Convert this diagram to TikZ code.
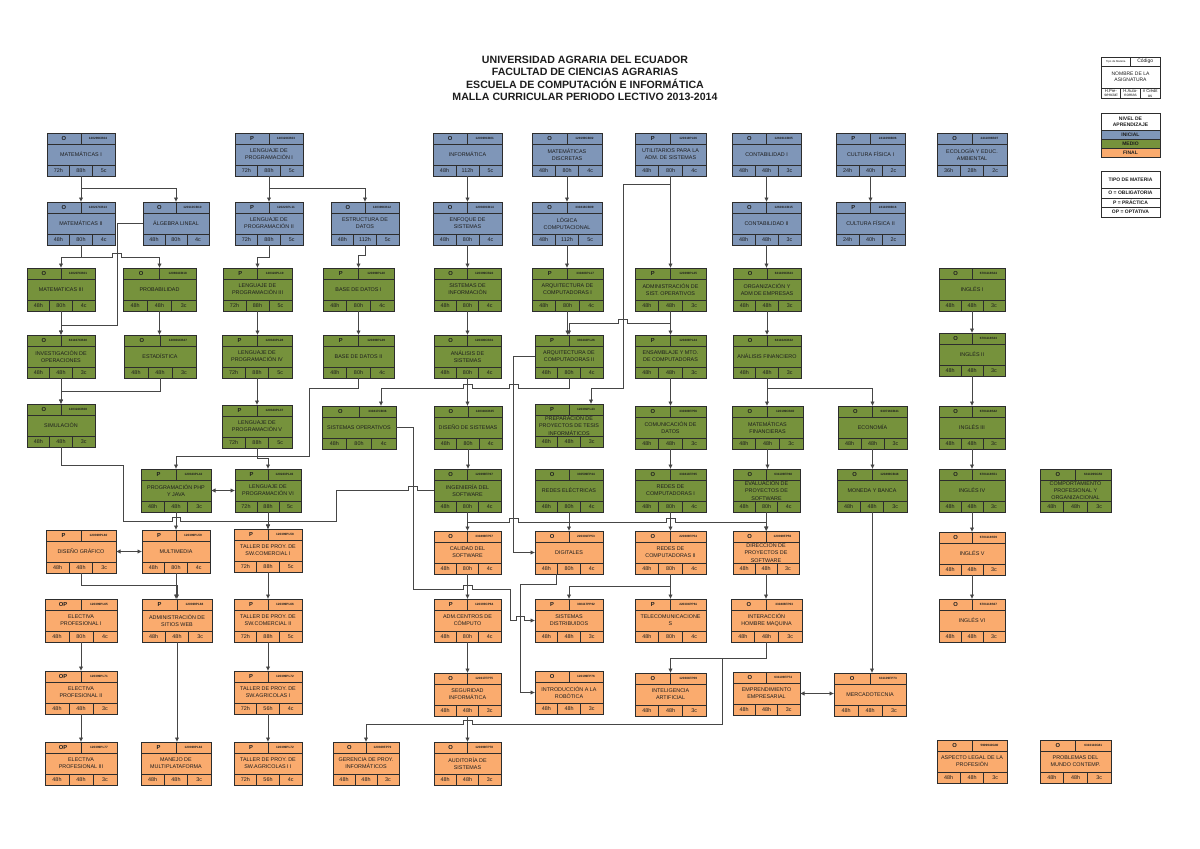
\documentclass[tikz,border=0pt]{standalone}
\usepackage{fontspec}
\setmainfont{Liberation Sans}
\usetikzlibrary{arrows.meta,calc}
\definecolor{cB}{RGB}{127,150,184}
\definecolor{cG}{RGB}{118,146,60}
\definecolor{cO}{RGB}{250,171,110}
\definecolor{boxc}{RGB}{45,45,45}
\definecolor{linec}{RGB}{70,70,70}
\definecolor{txtc}{RGB}{30,30,30}
\tikzset{
 box/.style={draw=boxc, line width=0.9pt, inner sep=0pt, outer sep=0pt},
 cellline/.style={draw=boxc, line width=0.6pt},
 typ/.style={font=\bfseries\fontsize{5.8}{6}\selectfont, text=txtc, inner sep=0pt},
 cod/.style={font=\bfseries\fontsize{3.1}{3.2}\selectfont, text=txtc, inner sep=0pt},
 ttl/.style={font=\fontsize{5.4}{7.2}\selectfont, align=center, text=txtc, inner sep=0pt},
 ftr/.style={font=\fontsize{5.4}{6}\selectfont, text=txtc, inner sep=0pt},
 conn/.style={draw=linec, line width=0.8pt},
 arr/.style={conn, -{Latex[length=4.5pt,width=4.5pt]}},
 darr/.style={conn, {Latex[length=4.5pt,width=4.5pt]}-{Latex[length=4.5pt,width=4.5pt]}},
 lgcell/.style={draw=boxc, line width=0.8pt, minimum width=59pt, inner sep=0pt, outer sep=0pt, align=center, text=txtc, font=\bfseries\fontsize{5}{5.8}\selectfont},
}
\newcommand\subj[9]{%
  \def\subjN{#1}\def\subjX{#2}\def\subjY{#3}\def\subjW{#4}\def\subjC{#5}%
  \def\subjT{#6}\def\subjK{#7}\def\subjM{#8}\def\subjA{#9}\subjfin}
\newcommand\subjfin[2]{%
  \node[box, fill=\subjC, minimum width=\subjW pt, minimum height=43pt] (\subjN) at ({\subjX+\subjW/2},{\subjY+21.5}) {};
  \draw[cellline] (\subjX,\subjY+11) -- ++(\subjW,0);
  \draw[cellline] (\subjX,\subjY+32) -- ++(\subjW,0);
  \draw[cellline] ({\subjX+\subjW/2},\subjY) -- ++(0,11);
  \draw[cellline] ({\subjX+\subjW/3},\subjY+32) -- ++(0,11);
  \draw[cellline] ({\subjX+2*\subjW/3},\subjY+32) -- ++(0,11);
  \node[typ] at ({\subjX+\subjW/4},\subjY+5.5) {\subjT};
  \node[cod] at ({\subjX+3*\subjW/4},\subjY+5.5) {\subjK};
  \node[ttl] at ({\subjX+\subjW/2},\subjY+21.5) {\subjM};
  \node[ftr] at ({\subjX+\subjW/6},\subjY+37.5) {\subjA};
  \node[ftr] at ({\subjX+\subjW/2},\subjY+37.5) {#1};
  \node[ftr] at ({\subjX+5*\subjW/6},\subjY+37.5) {#2};
}
\newcommand\vcon[2]{\draw[arr] (#1.south) -- (#1.south |- #2.north);}
\begin{document}
\begin{tikzpicture}[x=1pt,y=-1pt]
\useasboundingbox (0,0) rectangle (1200,849);
\fill[white] (0,0) rectangle (1200,849);

\node[font=\bfseries\fontsize{10.6}{12.3}\selectfont, align=center, text=txtc] (title) at (585,78.5)
 {UNIVERSIDAD AGRARIA DEL ECUADOR\\FACULTAD DE CIENCIAS AGRARIAS\\ESCUELA DE COMPUTACIÓN E INFORMÁTICA\\MALLA CURRICULAR PERIODO LECTIVO 2013-2014};

% ---------- row 1
\subj{m1}{47}{133}{68}{cB}{O}{120299CB04}{MATEMÁTICAS I}{72h}{88h}{5c}
\subj{lp1}{235}{133}{68}{cB}{P}{120323CB03}{LENGUAJE DE\\PROGRAMACIÓN I}{72h}{88h}{5c}
\subj{inf}{433}{133}{69}{cB}{O}{120399CB01}{INFORMÁTICA}{48h}{112h}{5c}
\subj{md}{532}{133}{70}{cB}{O}{129199CB02}{MATEMÁTICAS\\DISCRETAS}{48h}{80h}{4c}
\subj{util}{635}{133}{71}{cB}{P}{120319PL06}{UTILITARIOS PARA LA\\ADM. DE SISTEMAS}{48h}{80h}{4c}
\subj{c1}{732}{133}{69}{cB}{O}{126031CB05}{CONTABILIDAD I}{48h}{48h}{3c}
\subj{cf1}{836}{133}{69}{cB}{P}{2411098B06}{CULTURA FÍSICA I}{24h}{40h}{2c}
\subj{eco}{937}{133}{70}{cB}{O}{2411098B07}{ECOLOGÍA Y EDUC.\\AMBIENTAL}{36h}{28h}{2c}
% ---------- row 2
\subj{m2}{47}{202}{68}{cB}{O}{120217CB13}{MATEMÁTICAS II}{48h}{80h}{4c}
\subj{al}{143}{202}{66}{cB}{O}{120110CB10}{ÁLGEBRA LINEAL}{48h}{80h}{4c}
\subj{lp2}{235}{202}{68}{cB}{P}{120223PL11}{LENGUAJE DE\\PROGRAMACIÓN II}{72h}{88h}{5c}
\subj{ed}{331}{202}{68}{cB}{O}{120399CB12}{ESTRUCTURA DE\\DATOS}{48h}{112h}{5c}
\subj{enf}{433}{202}{69}{cB}{O}{120300CB14}{ENFOQUE DE\\SISTEMAS}{48h}{80h}{4c}
\subj{lc}{532}{202}{70}{cB}{O}{330416CB09}{LÓGICA\\COMPUTACIONAL}{48h}{112h}{5c}
\subj{c2}{732}{202}{69}{cB}{O}{126031CB15}{CONTABILIDAD II}{48h}{48h}{3c}
\subj{cf2}{836}{202}{69}{cB}{P}{2411098B16}{CULTURA FÍSICA II}{24h}{40h}{2c}
% ---------- row 3
\subj{m3}{27}{268}{68}{cG}{O}{120207CB01}{MATEMATICAS III}{48h}{80h}{4c}
\subj{prob}{123}{268}{73}{cG}{O}{120804CB18}{PROBABILIDAD}{48h}{48h}{3c}
\subj{lp3}{223}{268}{69}{cG}{P}{120323PL19}{LENGUAJE DE\\PROGRAMACIÓN III}{72h}{88h}{5c}
\subj{bd1}{323}{268}{71}{cG}{P}{120399PL20}{BASE DE DATOS I}{48h}{80h}{4c}
\subj{si}{434}{268}{67}{cG}{O}{120399CB22}{SISTEMAS DE\\INFORMACIÓN}{48h}{80h}{4c}
\subj{aq1}{532}{268}{71}{cG}{P}{330403PL17}{ARQUITECTURA DE\\COMPUTADORAS I}{48h}{80h}{4c}
\subj{aso}{635}{268}{71}{cG}{P}{120399PL25}{ADMINISTRACIÓN DE\\SIST. OPERATIVOS}{48h}{48h}{3c}
\subj{org}{733}{268}{68}{cG}{O}{631109CB23}{ORGANIZACIÓN Y\\ADM DE EMPRESAS}{48h}{48h}{3c}
\subj{ing1}{939}{268}{66}{cG}{O}{6701118S24}{INGLÉS I}{48h}{48h}{3c}
% ---------- row 4
\subj{io}{27}{335}{68}{cG}{O}{631167CB30}{INVESTIGACIÓN DE\\OPERACIONES}{48h}{48h}{3c}
\subj{est}{124}{335}{72}{cG}{O}{120801CB27}{ESTADÍSTICA}{48h}{48h}{3c}
\subj{lp4}{222}{335}{70}{cG}{P}{120323PL28}{LENGUAJE DE\\PROGRAMACIÓN IV}{72h}{88h}{5c}
\subj{bd2}{323}{335}{71}{cG}{P}{120399PL29}{BASE DE DATOS II}{48h}{80h}{4c}
\subj{as}{434}{335}{67}{cG}{O}{120300CB31}{ANÁLISIS DE\\SISTEMAS}{48h}{80h}{4c}
\subj{aq2}{535}{335}{68}{cG}{P}{330410PL26}{ARQUITECTURA DE\\COMPUTADORAS II}{48h}{80h}{4c}
\subj{ens}{635}{335}{71}{cG}{P}{120209PL24}{ENSAMBLAJE Y MTO.\\DE COMPUTADORAS}{48h}{48h}{3c}
\subj{af}{733}{335}{68}{cG}{O}{631102CB32}{ANÁLISIS FINANCIERO}{48h}{48h}{3c}
\subj{ing2}{939}{333}{66}{cG}{O}{6701118S33}{INGLÉS II}{48h}{48h}{3c}
% ---------- row 5
\subj{sim}{27}{404}{68}{cG}{O}{120324CB08}{SIMULACIÓN}{48h}{48h}{3c}
\subj{lp5}{222}{405}{70}{cG}{P}{120323PL37}{LENGUAJE DE\\PROGRAMACIÓN V}{72h}{88h}{5c}
\subj{so}{322}{406}{74}{cG}{O}{330417CB36}{SISTEMAS OPERATIVOS}{48h}{80h}{4c}
\subj{ds}{434}{406}{68}{cG}{O}{120316CB35}{DISEÑO DE SISTEMAS}{48h}{80h}{4c}
\subj{ppt}{535}{404}{68}{cG}{P}{120391PL43}{PREPARACIÓN DE\\PROYECTOS DE TESIS\\INFORMÁTICOS}{48h}{48h}{3c}
\subj{cd}{635}{406}{71}{cG}{O}{330309FP56}{COMUNICACIÓN DE\\DATOS}{48h}{48h}{3c}
\subj{mf}{732}{406}{71}{cG}{O}{120199CB40}{MATEMÁTICAS\\FINANCIERAS}{48h}{48h}{3c}
\subj{econ}{838}{406}{69}{cG}{O}{630716CB41}{ECONOMÍA}{48h}{48h}{3c}
\subj{ing3}{939}{406}{66}{cG}{O}{6701118S42}{INGLÉS III}{48h}{48h}{3c}
% ---------- row 6
\subj{php}{141}{469}{70}{cG}{P}{120323PL42}{PROGRAMACIÓN PHP\\Y JAVA}{48h}{48h}{3c}
\subj{lp6}{235}{469}{66}{cG}{P}{120223PL46}{LENGUAJE DE\\PROGRAMACIÓN VI}{72h}{88h}{5c}
\subj{isw}{434}{469}{67}{cG}{O}{120399FP47}{INGENIERÍA DEL\\SOFTWARE}{48h}{80h}{4c}
\subj{re}{535}{469}{68}{cG}{O}{330509FP44}{REDES ELÉCTRICAS}{48h}{80h}{4c}
\subj{rc1}{635}{469}{71}{cG}{O}{330413FP45}{REDES DE\\COMPUTADORAS I}{48h}{80h}{4c}
\subj{ev}{733}{469}{67}{cG}{O}{631109FP48}{EVALUACIÓN DE\\PROYECTOS DE\\SOFTWARE}{48h}{80h}{4c}
\subj{mb}{837}{469}{70}{cG}{O}{120499CB48}{MONEDA Y BANCA}{48h}{48h}{3c}
\subj{ing4}{939}{469}{66}{cG}{O}{6701118S51}{INGLÉS IV}{48h}{48h}{3c}
\subj{cpo}{1040}{469}{71}{cG}{O}{631109SG50}{COMPORTAMIENTO\\PROFESIONAL Y\\ORGANIZACIONAL}{48h}{48h}{3c}
% ---------- row 7
\subj{dg}{46}{530}{70}{cO}{P}{120399PL60}{DISEÑO GRÁFICO}{48h}{48h}{3c}
\subj{mmd}{142}{530}{68}{cO}{P}{120399PL59}{MULTIMEDIA}{48h}{80h}{4c}
\subj{tc1}{234}{529}{68}{cO}{P}{120399PL58}{TALLER DE PROY. DE\\SW.COMERCIAL I}{72h}{88h}{5c}
\subj{cal}{434}{531}{67}{cO}{O}{330499FP57}{CALIDAD DEL\\SOFTWARE}{48h}{80h}{4c}
\subj{dig}{535}{531}{68}{cO}{O}{220301FP53}{DIGITALES}{48h}{80h}{4c}
\subj{rc2}{635}{531}{71}{cO}{O}{220309FP54}{REDES DE\\COMPUTADORAS II}{48h}{80h}{4c}
\subj{dp}{733}{531}{66}{cO}{O}{120399FP56}{DIRECCIÓN DE\\PROYECTOS DE\\SOFTWARE}{48h}{48h}{3c}
\subj{ing5}{939}{532}{66}{cO}{O}{6701118S59}{INGLÉS V}{48h}{48h}{3c}
% ---------- row 8
\subj{ep1}{45}{599}{72}{cO}{OP}{120399PL65}{ELECTIVA\\PROFESIONAL I}{48h}{80h}{4c}
\subj{asw}{142}{599}{70}{cO}{P}{120399PL68}{ADMINISTRACIÓN DE\\SITIOS WEB}{48h}{48h}{3c}
\subj{tc2}{234}{599}{68}{cO}{P}{120399PL66}{TALLER DE PROY. DE\\SW.COMERCIAL II}{72h}{88h}{5c}
\subj{acc}{434}{599}{67}{cO}{P}{120399CP64}{ADM.CENTROS DE\\CÓMPUTO}{48h}{80h}{4c}
\subj{sd}{535}{599}{68}{cO}{P}{330417PP62}{SISTEMAS\\DISTRIBUIDOS}{48h}{48h}{3c}
\subj{tel}{635}{599}{71}{cO}{P}{220304PP61}{TELECOMUNICACIONE\\S}{48h}{80h}{4c}
\subj{ihm}{731}{599}{71}{cO}{O}{330408FP63}{INTERACCIÓN\\HOMBRE MAQUINA}{48h}{48h}{3c}
\subj{ing6}{939}{599}{66}{cO}{O}{6701118S67}{INGLÉS VI}{48h}{48h}{3c}
% ---------- row 9
\subj{ep2}{45}{671}{72}{cO}{OP}{120399PL71}{ELECTIVA\\PROFESIONAL II}{48h}{48h}{3c}
\subj{ta1}{234}{671}{68}{cO}{P}{120399PL72}{TALLER DE PROY. DE\\SW.AGRICOLAS I}{72h}{56h}{4c}
\subj{seg}{434}{673}{67}{cO}{O}{120317FP75}{SEGURIDAD\\INFORMÁTICA}{48h}{48h}{3c}
\subj{rob}{535}{671}{68}{cO}{O}{120199FP76}{INTRODUCCIÓN A LA\\ROBÓTICA}{48h}{48h}{3c}
\subj{ia}{635}{673}{71}{cO}{O}{120304FP69}{INTELIGENCIA\\ARTIFICIAL}{48h}{48h}{3c}
\subj{emp}{733}{672}{67}{cO}{O}{631109FP74}{EMPRENDIMIENTO\\EMPRESARIAL}{48h}{48h}{3c}
\subj{mer}{834}{673}{72}{cO}{O}{631109FP73}{MERCADOTECNIA}{48h}{48h}{3c}
% ---------- row 10
\subj{ep3}{45}{742}{72}{cO}{OP}{120399PL77}{ELECTIVA\\PROFESIONAL III}{48h}{48h}{3c}
\subj{mmp}{141}{742}{70}{cO}{P}{120399PL82}{MANEJO DE\\MULTIPLATAFORMA}{48h}{48h}{3c}
\subj{ta2}{234}{742}{68}{cO}{P}{120399PL72}{TALLER DE PROY. DE\\SW.AGRICOLAS I I}{72h}{56h}{4c}
\subj{ger}{333}{742}{66}{cO}{O}{120309FP79}{GERENCIA DE PROY.\\INFORMÁTICOS}{48h}{48h}{3c}
\subj{aud}{434}{742}{67}{cO}{O}{120399FP78}{AUDITORÍA DE\\SISTEMAS}{48h}{48h}{3c}
\subj{alp}{937}{740}{70}{cO}{O}{5909940G80}{ASPECTO LEGAL DE LA\\PROFESIÓN}{48h}{48h}{3c}
\subj{pmc}{1040}{740}{71}{cO}{O}{6310110G81}{PROBLEMAS DEL\\MUNDO CONTEMP.}{48h}{48h}{3c}

% ---------- legend
\node[box, fill=white, minimum width=59pt, minimum height=41pt] (lgt) at (1130.5,77.5) {};
\draw[cellline] (1101,66) -- (1160,66);
\draw[cellline] (1101,88) -- (1160,88);
\draw[cellline] (1130.5,57) -- (1130.5,66);
\draw[cellline] (1120.7,88) -- (1120.7,98);
\draw[cellline] (1140.3,88) -- (1140.3,98);
\node[font=\fontsize{2.8}{3}\selectfont, text=txtc] (lgt1) at (1115.8,61.5) {Tipo de Materia};
\node[font=\fontsize{5}{5}\selectfont, text=txtc] (lgt2) at (1145.2,61.5) {Código};
\node[font=\fontsize{5}{6.4}\selectfont, align=center, text=txtc] (lgt3) at (1130.5,77) {NOMBRE DE LA\\ASIGNATURA};
\node[font=\fontsize{4.2}{4.4}\selectfont, align=center, text=txtc, inner sep=0pt] (lgt4) at (1110.9,93.3) {H.Pre-\\sencial};
\node[font=\fontsize{4.2}{4.4}\selectfont, align=center, text=txtc, inner sep=0pt] (lgt5) at (1130.5,93.3) {H.Auto-\\nomas};
\node[font=\fontsize{4.2}{4.4}\selectfont, align=center, text=txtc, inner sep=0pt] (lgt6) at (1150.1,93.3) {\# Crédit\\os};

\node[lgcell, fill=white, minimum height=17pt] (nv0) at (1130.5,121.5) {NIVEL DE\\APRENDIZAJE};
\node[lgcell, fill=cB, minimum height=9pt] (nv1) at (1130.5,134.5) {INICIAL};
\node[lgcell, fill=cG, minimum height=9pt] (nv2) at (1130.5,143.5) {MEDIO};
\node[lgcell, fill=cO, minimum height=9pt] (nv3) at (1130.5,152.5) {FINAL};

\node[lgcell, fill=white, minimum height=17pt] (tp0) at (1130.5,179.5) {TIPO DE MATERIA};
\node[lgcell, fill=white, minimum height=10pt] (tp1) at (1130.5,193) {O = OBLIGATORIA};
\node[lgcell, fill=white, minimum height=9pt] (tp2) at (1130.5,202.5) {P = PRÁCTICA};
\node[lgcell, fill=white, minimum height=10pt] (tp3) at (1130.5,212) {OP = OPTATIVA};

% ---------- connectors
% blue block
\vcon{m1}{m2}
\draw[arr] (m1.south) -- ++(0,12) -| (al.north);
\vcon{lp1}{lp2}
\draw[arr] (lp1.south) -- ++(0,12) -| (ed.north);
\vcon{inf}{enf}
\vcon{md}{lc}
\vcon{c1}{c2}
\vcon{cf1}{cf2}
\vcon{util}{aso}
\draw[arr] (util.south) -- ++(0,8) -| (623,388) -| ($(ppt.north)+(22,0)$);
% maths column
\draw[arr] (m2.south) -- ++(0,12) -| (m3.north);
\draw[arr] (m2.south) -- ++(0,12) -- (112,257) -- ++(0,-4) -- ++(9,0) -- ++(0,4) -| (prob.north);
\draw[arr] (al.west) -| (117,325) -| (io.north);
\vcon{m3}{io}
\vcon{prob}{est}
\vcon{io}{sim}
\draw[arr] (est.south) -- ++(0,13) -| (sim.north);
% programming column
\draw[arr] (lp2.south) -- ++(0,12) -| (lp3.north);
\vcon{lp3}{lp4}
\vcon{lp4}{lp5}
\draw[arr] (lp5.south) -- ++(0,10) -| (lp6.north);
\draw[darr] (php.east) -- (lp6.west);
\vcon{php}{mmd}
\vcon{lp6}{tc1}
\draw[arr] (sim.south) -- ++(0,18) -| (123,521) -- (172,521) -- ++(0,-4) -- ++(8,0) -- ++(0,4) -| (tc1.north);
\draw[arr] (isw.west) -- (417,490.5) -- ++(0,-4) -- ++(-9,0) -- ++(0,4) -| (336,521) -| (tc1.north);
\draw[darr] (dg.east) -- (mmd.west);
\draw[arr] (dg.south) -- ++(0,12) -| (asw.north);
\vcon{mmd}{asw}
\vcon{asw}{mmp}
\vcon{tc1}{tc2}
\vcon{tc2}{ta1}
\vcon{ta1}{ta2}
\vcon{ep1}{ep2}
\vcon{ep2}{ep3}
% databases
\draw[arr] (ed.south) -- ++(0,10) -| (bd1.north);
\vcon{bd1}{bd2}
\draw[arr] (bd2.south) -- ++(0,10) -| (309,456) -| (php.north);
% systems column
\vcon{enf}{si}
\vcon{si}{as}
\vcon{as}{ds}
\vcon{ds}{isw}
\vcon{isw}{cal}
\vcon{cal}{acc}
\vcon{acc}{seg}
\vcon{seg}{aud}
% architecture
\vcon{lc}{aq1}
\vcon{aq1}{aq2}
\draw[arr] (aso.south) -- ++(0,12) -- (627,323) -- ++(0,-4) -- ++(-9,0) -- ++(0,4) -| (aq2.north);
\draw[arr] (aq2.south) -- ++(0,10) -- (518,388) -- ++(0,-4) -- ++(-9,0) -- ++(0,4) -- (472,388) -- ++(0,-4) -- ++(-9,0) -- ++(0,4) -| ($(so.north)+(22,0)$);
\draw[arr] (aq2.west) -- ++(-22,0) |- (dig.west);
\draw[arr] (isw.south) -- ++(0,10) -- (509,522) -- ++(0,-4) -- ++(9,0) -- ++(0,4) -- (666,522) -- ++(0,-4) -- ++(9,0) -- ++(0,4) -| (dp.north);
\vcon{re}{dig}
\draw[arr] (so.east) -- ++(17,0) |- (463,589) -- ++(0,-4) -- ++(9,0) -- ++(0,4) -| (510,620.5) -- (516,620.5) -- ++(0,-4) -- ++(8,0) -- ++(0,4) -- (sd.west);
\draw[arr] ($(dig.south)+(-13,0)$) -- ++(0,10) -- (520,584) |- (rob.west);
% networks
\vcon{aso}{ens}
\vcon{ens}{cd}
\vcon{cd}{rc1}
\vcon{rc1}{rc2}
\vcon{rc2}{tel}
\draw[arr] (rc2.south) -- ++(0,12) -| (sd.north);
% management
\vcon{c2}{org}
\vcon{org}{af}
\vcon{af}{mf}
\draw[arr] (af.south) -- ++(0,10) -| (econ.north);
\vcon{mf}{ev}
\vcon{econ}{mb}
\vcon{mb}{mer}
\vcon{ev}{dp}
\vcon{dp}{ihm}
\draw[arr] (ihm.south) -- ++(0,16) -| (ia.north);
\draw[arr] (ihm.south) -- ++(0,16) -- (722,658) -- (722,724) -- (472,724) -- ++(0,-4) -- ++(-9,0) -- ++(0,4) -| (ger.north);
\draw[darr] (emp.east) -- (emp.east -| mer.west);
% english
\vcon{ing1}{ing2}
\vcon{ing2}{ing3}
\vcon{ing3}{ing4}
\vcon{ing4}{ing5}
\vcon{ing5}{ing6}
\end{tikzpicture}
\end{document}
